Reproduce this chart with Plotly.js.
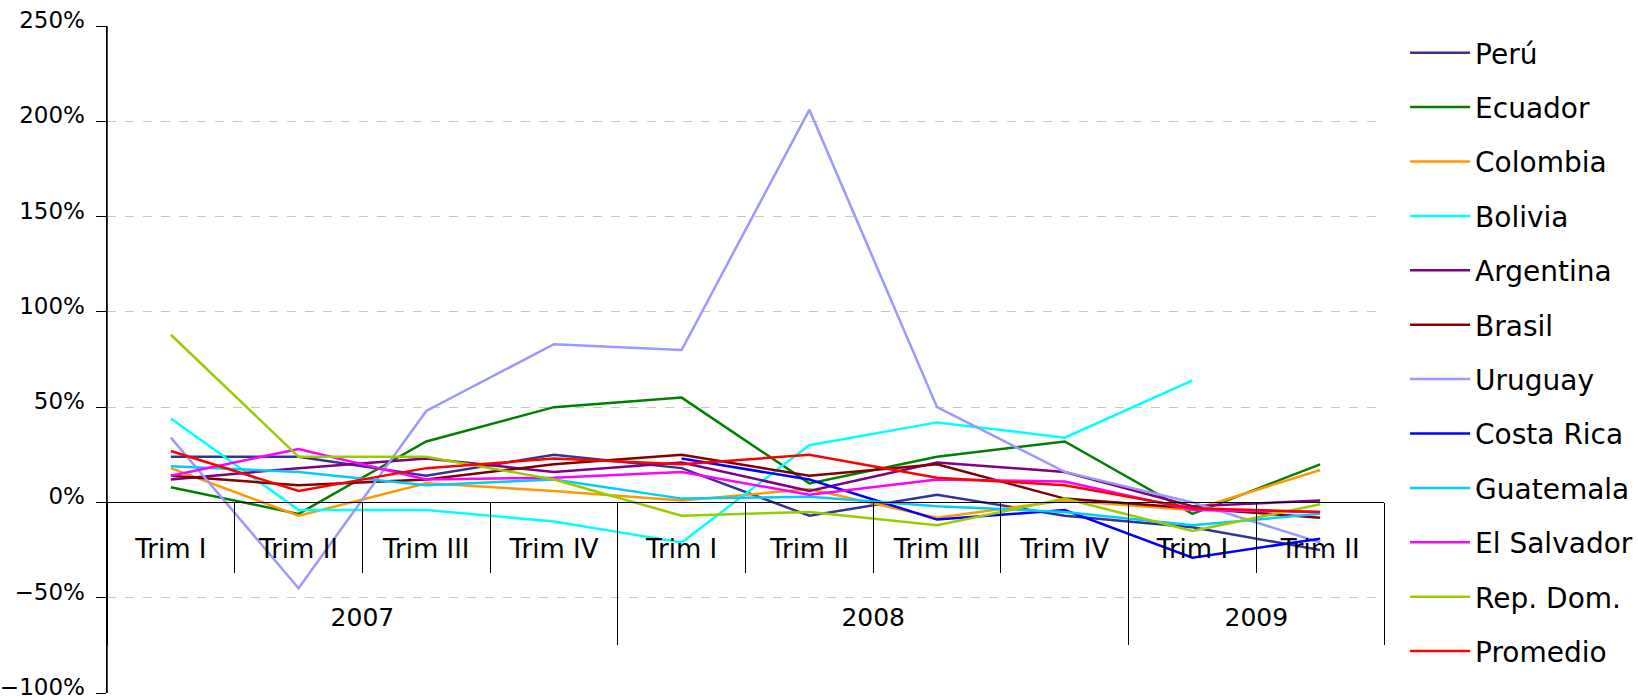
<!DOCTYPE html>
<html>
<head>
<meta charset="utf-8">
<script src="https://cdn.plot.ly/plotly-3.0.1.min.js"></script>
<style>html,body{margin:0;padding:0;background:#fff;}#chart{width:1638px;height:700px;}</style>
</head>
<body>
<div id="chart"></div>
<script>
// Category labels
const years = ['2007','2007','2007','2007','2008','2008','2008','2008','2009','2009'];
const trims = ['Trim I','Trim II','Trim III','Trim IV','Trim I','Trim II','Trim III','Trim IV','Trim I','Trim II'];

// Series values (%)
const peru       = [24, 24, 14, 25, 18, -7, 4, -7, -13, -25];
const ecuador    = [8, -6, 32, 50, 55, 10, 24, 32, -6, 20];
const colombia   = [18, -7, 10, 6, 1, 7, -8, 1, -4, 17];
const bolivia    = [44, -4, -4, -10, -21, 30, 42, 34, 64, null];
const argentina  = [12, 18, 23, 16, 21, 6, 21, 16, -2, 1];
const brasil     = [14, 9, 12, 20, 25, 14, 20, 2, -3, -8];
const uruguay    = [34, -45, 48, 83, 80, 206, 50, 16, 0, -21];
const costaRica  = [null, null, null, null, 23, 12, -9, -4, -29, -19];
const guatemala  = [19, 16, 9, 12, 2, 3, -2, -5, -12, -6];
const elSalvador = [14, 28, 12, 13, 16, 4, 12, 11, -4, -5];
const repDom     = [88, 24, 24, 12, -7, -5, -12, 2, -15, -1];
const promedio   = [27, 6, 18, 23, 20, 25, 13, 9, -3, -5];

const seriesNames = ['Perú','Ecuador','Colombia','Bolivia','Argentina','Brasil','Uruguay','Costa Rica','Guatemala','El Salvador','Rep. Dom.','Promedio'];
const seriesValues = [peru, ecuador, colombia, bolivia, argentina, brasil, uruguay, costaRica, guatemala, elSalvador, repDom, promedio];
const seriesColors = ['#333399','#008000','#ff9900','#00ffff','#800080','#800000','#9999ff','#0000ff','#00ccff','#ff00ff','#99cc00','#ff0000'];

const ids = years.map((y, i) => y + ' ' + trims[i]);

// year groups derived from the category arrays
const uniqYears = [...new Set(years)];
const yearCenters = uniqYears.map(y => {
  const f = years.indexOf(y), l = years.lastIndexOf(y);
  return (f + l) / 2;
});
const yearBounds = [-0.5].concat(uniqYears.map(y => years.lastIndexOf(y) + 0.5));

const traces = seriesNames.map((n, k) => ({
  type: 'scatter', mode: 'lines', name: n, legendgroup: n,
  x: ids, y: seriesValues[k], xaxis: 'x', yaxis: 'y',
  line: {color: seriesColors[k], width: 2.5},
  connectgaps: false, hoverinfo: 'skip'
}));

const FONT = 'DejaVu Sans, Verdana, sans-serif';
const yMin = -100, yMax = 250;
const axPos = (0 - yMin) / (yMax - yMin);
const xr = [-0.5, ids.length - 0.5];

const layout = {
  width: 1638, height: 700,
  margin: {l: 107, r: 254, t: 26, b: 7, autoexpand: false},
  paper_bgcolor: '#fff', plot_bgcolor: '#fff',
  font: {family: FONT, color: '#000', size: 22},
  showlegend: true,
  legend: {
    x: 1.0165, xanchor: 'left', y: 0.997, yanchor: 'top',
    font: {family: FONT, size: 28, color: '#000'},
    tracegroupgap: 15, itemwidth: 60, traceorder: 'grouped',
    bgcolor: 'rgba(0,0,0,0)'
  },
  xaxis: {
    type: 'category', categoryorder: 'array', categoryarray: ids,
    tickvals: ids, ticktext: trims, range: xr,
    tickson: 'boundaries', ticks: 'outside', ticklen: 70, tickcolor: '#000', tickwidth: 1,
    ticklabelstandoff: 23,
    tickfont: {family: FONT, size: 26, color: '#000'},
    showline: true, linecolor: '#000', linewidth: 1,
    showgrid: false, zeroline: false,
    anchor: 'free', position: axPos, automargin: false
  },
  xaxis2: {
    type: 'linear', overlaying: 'x', range: xr,
    tickvals: yearCenters, ticktext: uniqYears, ticks: '',
    ticklabelstandoff: 98,
    tickfont: {family: FONT, size: 25, color: '#000'},
    showline: false, showgrid: false, zeroline: false,
    anchor: 'free', position: axPos, automargin: false
  },
  xaxis3: {
    type: 'linear', overlaying: 'x', range: xr,
    tickvals: yearBounds, ticks: 'outside', ticklen: 142, tickcolor: '#000', tickwidth: 1,
    showticklabels: false,
    showline: false, showgrid: false, zeroline: false,
    anchor: 'free', position: axPos, automargin: false
  },
  yaxis: {
    range: [yMin, yMax], dtick: 50, tick0: 0, ticksuffix: '%',
    ticks: 'outside', ticklen: 10, tickcolor: '#000', ticklabelstandoff: 6,
    ticklabelshift: -6, ticklabeloverflow: 'allow',
    tickfont: {family: FONT, size: 23, color: '#000'},
    showline: true, linecolor: '#000', linewidth: 1.5,
    showgrid: true, gridcolor: '#c8c8c8', griddash: 'dash', gridwidth: 1,
    zeroline: false, automargin: false
  },
  // left frame edge of the plotting area (axis line), in paper units
  shapes: [{type: 'line', xref: 'paper', yref: 'paper', x0: 0, x1: 0, y0: 0, y1: 1,
            line: {color: '#000', width: 1.5}, layer: 'above'}]
};

// empty traces that activate the overlay axes (no visible marks)
['x2','x3'].forEach(a => traces.push({type: 'scatter', mode: 'none', x: [], y: [], xaxis: a, yaxis: 'y', showlegend: false, hoverinfo: 'skip'}));

Plotly.newPlot('chart', traces, layout, {displayModeBar: false, staticPlot: true});
</script>
</body>
</html>
